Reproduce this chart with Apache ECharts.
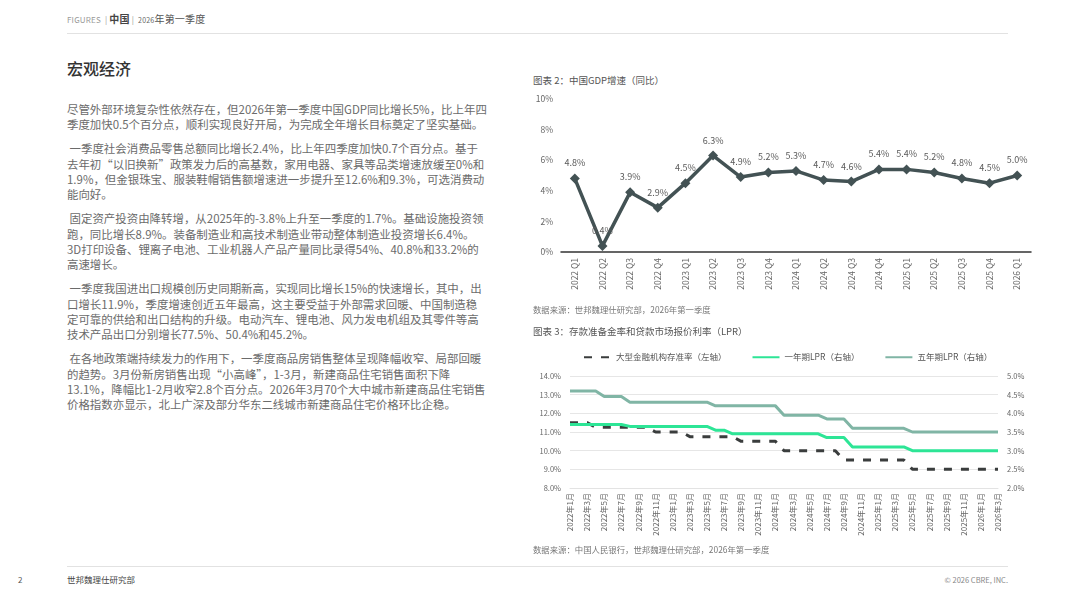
<!DOCTYPE html>
<html>
<head>
    <meta charset="utf-8" />
    <title>宏观经济</title>
    <script src="https://cdn.jsdelivr.net/npm/echarts@6/dist/echarts.min.js"></script>
    <style>
        body { margin: 0; width: 1067px; height: 600px; background: #fff; position: relative; overflow: hidden;
               font-family: "Noto Sans CJK SC", "Noto Sans", sans-serif; color: #5f5f5f; }
        .abs { position: absolute; white-space: pre; }
        .rule { position: absolute; left: 67px; width: 941px; height: 1px; background: #e2e2e2; }
        .para { margin: 0 0 8.8px 0; font-size: 11.45px; line-height: 15.3px; color: #6b6b6b; white-space: pre; }
        .cap { font-size: 9.5px; color: #555; }
        .src { font-size: 8.4px; color: #777; }
    </style>
</head>
<body>
    <!-- 页眉 -->
    <div class="abs" style="left:67px;top:11px;font-size:8px;color:#999;letter-spacing:0.2px">FIGURES  | <b style="font-size:10px;color:#444">中国</b> |  <span style="font-size:7px;color:#666">2026</span><span style="font-size:10px;color:#555">年第一季度</span></div>
    <div class="rule" style="top:33px"></div>

    <!-- 左侧正文 -->
    <div class="abs" style="left:67px;top:56px;font-size:16px;color:#333;font-weight:500">宏观经济</div>
    <div style="position:absolute;left:67px;top:102px"><p class="para">尽管外部环境复杂性依然存在，但2026年第一季度中国GDP同比增长5%，比上年四
季度加快0.5个百分点，顺利实现良好开局，为完成全年增长目标奠定了坚实基础。</p><p class="para"> 一季度社会消费品零售总额同比增长2.4%，比上年四季度加快0.7个百分点。基于
去年初“以旧换新”政策发力后的高基数，家用电器、家具等品类增速放缓至0%和
1.9%，但金银珠宝、服装鞋帽销售额增速进一步提升至12.6%和9.3%，可选消费动
能向好。</p><p class="para"> 固定资产投资由降转增，从2025年的-3.8%上升至一季度的1.7%。基础设施投资领
跑，同比增长8.9%。装备制造业和高技术制造业带动整体制造业投资增长6.4%。
3D打印设备、锂离子电池、工业机器人产品产量同比录得54%、40.8%和33.2%的
高速增长。</p><p class="para"> 一季度我国进出口规模创历史同期新高，实现同比增长15%的快速增长，其中，出
口增长11.9%，季度增速创近五年最高，这主要受益于外部需求回暖、中国制造稳
定可靠的供给和出口结构的升级。电动汽车、锂电池、风力发电机组及其零件等高
技术产品出口分别增长77.5%、50.4%和45.2%。</p><p class="para"> 在各地政策端持续发力的作用下，一季度商品房销售整体呈现降幅收窄、局部回暖
的趋势。3月份新房销售出现“小高峰”，1-3月，新建商品住宅销售面积下降
13.1%，降幅比1-2月收窄2.8个百分点。2026年3月70个大中城市新建商品住宅销售
价格指数亦显示，北上广深及部分华东二线城市新建商品住宅价格环比企稳。</p></div>

    <!-- 图表 2 -->
    <div class="abs cap" style="left:533px;top:73px">图表 2：中国GDP增速（同比）</div>
    <div id="gdp" style="position:absolute;left:530px;top:88px;width:537px;height:220px;"></div>
    <div class="abs src" style="left:533px;top:303px">数据来源：世邦魏理仕研究部，2026年第一季度</div>

    <!-- 图表 3 -->
    <div class="abs cap" style="left:533px;top:324px">图表 3：存款准备金率和贷款市场报价利率（LPR）</div>
    <div id="lpr" style="position:absolute;left:530px;top:340px;width:537px;height:215px;"></div>
    <div class="abs src" style="left:533px;top:543px">数据来源：中国人民银行，世邦魏理仕研究部，2026年第一季度</div>

    <!-- 页脚 -->
    <div class="rule" style="top:566px"></div>
    <div class="abs" style="left:18px;top:574px;font-size:8px;color:#555">2</div>
    <div class="abs" style="left:67px;top:573px;font-size:8.5px;color:#444">世邦魏理仕研究部</div>
    <div class="abs" style="right:59px;top:574px;font-size:7.5px;color:#888">© 2026 CBRE, INC.</div>

    <script>
        // GDP 季度数据
        var quarters = ['2022 Q1', '2022 Q2', '2022 Q3', '2022 Q4', '2023 Q1', '2023 Q2', '2023 Q3', '2023 Q4',
            '2024 Q1', '2024 Q2', '2024 Q3', '2024 Q4', '2025 Q1', '2025 Q2', '2025 Q3', '2025 Q4', '2026 Q1'];
        var gdpGrowth = [4.8, 0.4, 3.9, 2.9, 4.5, 6.3, 4.9, 5.2, 5.3, 4.7, 4.6, 5.4, 5.4, 5.2, 4.8, 4.5, 5.0];

        // 月度：2022年1月 - 2026年3月
        var months = [];
        for (var y = 2022; y <= 2026; y++) {
            for (var m = 1; m <= 12; m++) {
                if (y === 2026 && m > 3) break;
                months.push(y + '年' + m + '月');
            }
        }
        var rrrLarge = [11.5, 11.5, 11.5, 11.25, 11.25, 11.25, 11.25, 11.25, 11.25, 11.25,
            11.0, 11.0, 11.0, 11.0, 10.75, 10.75, 10.75, 10.75, 10.75, 10.75,
            10.5, 10.5, 10.5, 10.5, 10.5, 10.0, 10.0, 10.0, 10.0, 10.0,
            10.0, 10.0, 9.5, 9.5, 9.5, 9.5, 9.5, 9.5, 9.5, 9.5,
            9.0, 9.0, 9.0, 9.0, 9.0, 9.0, 9.0, 9.0, 9.0, 9.0, 9.0];
        var lpr1y = [3.70, 3.70, 3.70, 3.70, 3.70, 3.70, 3.70, 3.65, 3.65, 3.65,
            3.65, 3.65, 3.65, 3.65, 3.65, 3.65, 3.65, 3.55, 3.55, 3.45,
            3.45, 3.45, 3.45, 3.45, 3.45, 3.45, 3.45, 3.45, 3.45, 3.45,
            3.35, 3.35, 3.35, 3.10, 3.10, 3.10, 3.10, 3.10, 3.10, 3.10,
            3.00, 3.00, 3.00, 3.00, 3.00, 3.00, 3.00, 3.00, 3.00, 3.00, 3.00];
        var lpr5y = [4.60, 4.60, 4.60, 4.60, 4.45, 4.45, 4.45, 4.30, 4.30, 4.30,
            4.30, 4.30, 4.30, 4.30, 4.30, 4.30, 4.30, 4.20, 4.20, 4.20,
            4.20, 4.20, 4.20, 4.20, 4.20, 3.95, 3.95, 3.95, 3.95, 3.95,
            3.85, 3.85, 3.85, 3.60, 3.60, 3.60, 3.60, 3.60, 3.60, 3.60,
            3.50, 3.50, 3.50, 3.50, 3.50, 3.50, 3.50, 3.50, 3.50, 3.50, 3.50];

        var font = '"Noto Sans CJK SC", "Noto Sans", sans-serif';

        var gdpChart = echarts.init(document.getElementById('gdp'));
        gdpChart.setOption({
            animation: false,
            textStyle: { fontFamily: font },
            grid: { left: 31, right: 36, top: 11, bottom: 56 },
            xAxis: {
                type: 'category',
                data: quarters,
                axisLine: { lineStyle: { color: '#333', width: 1.5 } },
                axisTick: { show: false },
                axisLabel: { rotate: 90, fontSize: 8.5, color: '#666', margin: 6 }
            },
            yAxis: {
                type: 'value',
                min: 0, max: 10, interval: 2,
                splitLine: { show: false },
                axisLabel: { formatter: '{value}%', fontSize: 8.5, color: '#666', margin: 8 }
            },
            series: [{
                type: 'line',
                data: gdpGrowth,
                symbol: 'diamond',
                symbolSize: 10,
                color: '#435254',
                lineStyle: { width: 3.5, color: '#435254' },
                label: {
                    show: true, position: 'top', distance: 6,
                    fontSize: 9, color: '#5a5a5a',
                    formatter: function (p) { return p.value.toFixed(1) + '%'; }
                }
            }]
        });

        var lprChart = echarts.init(document.getElementById('lpr'));
        lprChart.setOption({
            animation: false,
            textStyle: { fontFamily: font },
            legend: {
                top: 8, left: 48,
                itemWidth: 27, itemHeight: 10, itemGap: 25,
                itemStyle: { opacity: 0 },
                textStyle: { fontSize: 8.5, color: '#555' },
                data: ['大型金融机构存准率（左轴）', '一年期LPR（右轴）', '五年期LPR（右轴）']
            },
            grid: { left: 40, right: 69, top: 36, bottom: 67 },
            xAxis: {
                type: 'category',
                data: months,
                boundaryGap: false,
                axisLine: { lineStyle: { color: '#e3e3e3' } },
                axisTick: { show: false },
                axisLabel: { rotate: 90, interval: 1, fontSize: 8, color: '#666', margin: 5 }
            },
            yAxis: [{
                type: 'value',
                min: 8, max: 14, interval: 1,
                splitLine: { lineStyle: { color: '#e6e6e6' } },
                axisLabel: { fontSize: 7.5, color: '#666', margin: 9,
                    formatter: function (v) { return v.toFixed(1) + '%'; } }
            }, {
                type: 'value',
                min: 2, max: 5, interval: 0.5,
                splitLine: { show: false },
                axisLabel: { fontSize: 7.5, color: '#666', margin: 9,
                    formatter: function (v) { return v.toFixed(1) + '%'; } }
            }],
            series: [{
                name: '大型金融机构存准率（左轴）',
                type: 'line',
                yAxisIndex: 0,
                data: rrrLarge,
                symbol: 'none',
                color: '#3a3d3d',
                lineStyle: { width: 3, color: '#3a3d3d', type: [8, 9] }
            }, {
                name: '一年期LPR（右轴）',
                type: 'line',
                yAxisIndex: 1,
                data: lpr1y,
                symbol: 'none',
                color: '#2de596',
                lineStyle: { width: 3, color: '#2de596' }
            }, {
                name: '五年期LPR（右轴）',
                type: 'line',
                yAxisIndex: 1,
                data: lpr5y,
                symbol: 'none',
                color: '#80b5a5',
                lineStyle: { width: 3, color: '#80b5a5' }
            }]
        });
    </script>
</body>
</html>
